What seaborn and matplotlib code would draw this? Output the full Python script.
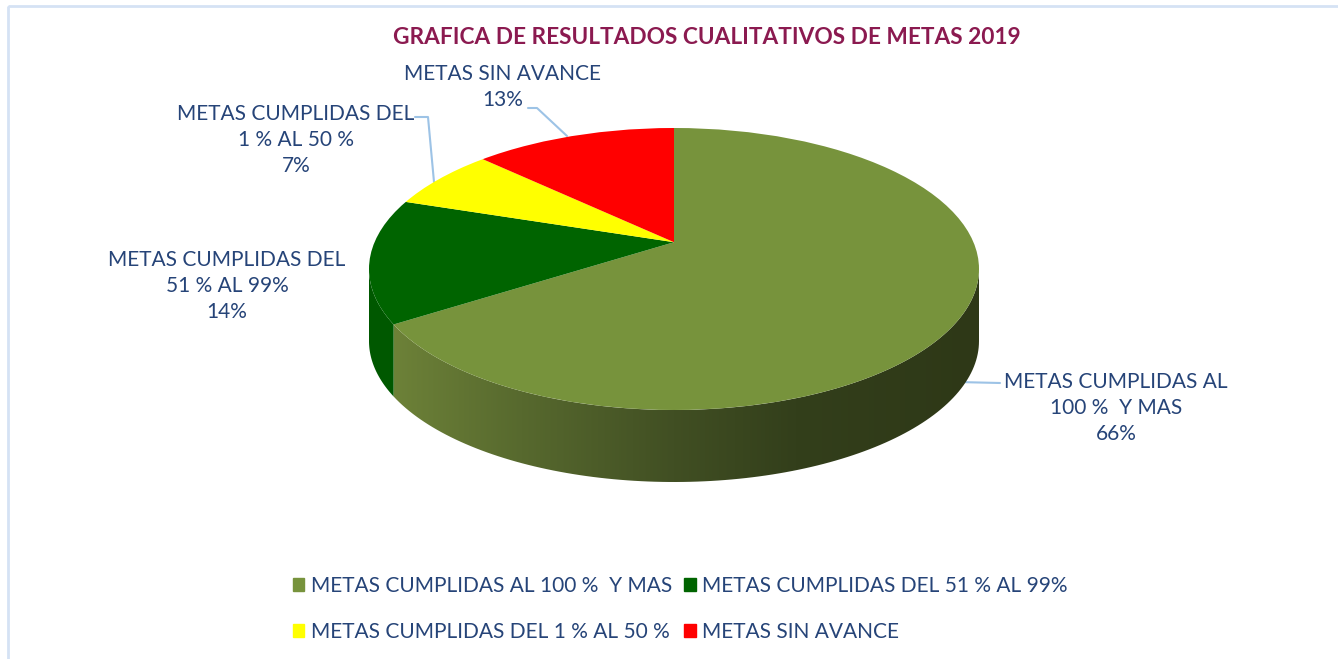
import numpy as np
import matplotlib
matplotlib.use("Agg")
import matplotlib.pyplot as plt
from matplotlib.patches import Polygon, Patch, Rectangle, Circle
from matplotlib.colors import LinearSegmentedColormap
import seaborn as sns

# datos
categorias = ["METAS CUMPLIDAS AL 100 %  Y MAS", "METAS CUMPLIDAS DEL 51 % AL 99%",
              "METAS CUMPLIDAS DEL 1 % AL 50 %", "METAS SIN AVANCE"]
etiquetas = ["METAS CUMPLIDAS AL\n100 %  Y MAS", "METAS CUMPLIDAS DEL\n51 % AL 99%",
             "METAS CUMPLIDAS DEL\n1 % AL 50 %", "METAS SIN AVANCE"]
porcentajes = [66, 14, 7, 13]
colores = ["#77933C", "#006400", "#FFFF00", "#FF0000"]
titulo = "GRAFICA DE RESULTADOS CUALITATIVOS DE METAS 2019"

sns.set_theme(style="white")
plt.rcParams["font.family"] = ["Lato", "DejaVu Sans"]
azul = "#264478"
linea = "#9DC3E6"

W, H = 1338, 659
fig = plt.figure(figsize=(W / 100, H / 100), dpi=100)
ax = fig.add_axes([0, 0, 1, 1])
ax.set_xlim(0, W)
ax.set_ylim(H, 0)
ax.axis("off")
ax.add_patch(Rectangle((8, 6), 1400, 700, fill=False, edgecolor="#d5e2f4", lw=2))

# pastel 3d: cara superior eliptica + pared lateral
cx, cy, rx, ry, prof = 674, 269, 305, 141, 72
dd = prof / ry
off = 0.19  # vertice desplazado hacia arriba (perspectiva)
pax = fig.add_axes([(cx - rx) / W, 1 - (cy + ry + prof) / H, 2 * rx / W, (2 * ry + prof) / H])
wedges, _ = pax.pie(porcentajes, colors=colores, startangle=90, counterclock=False,
                    center=(0, off), radius=1.5, wedgeprops=dict(linewidth=0))
pax.set_aspect("auto")
pax.axis("off")
borde = Circle((0, 0), 1, transform=pax.transData)
for w in wedges:
    w.set_zorder(3)
    w.set_clip_on(True)
    w.set_clip_path(borde)


def borde_ang(th):
    # angulo sobre el borde donde cae el rayo que sale del vertice
    r = np.radians(th)
    b = off * np.sin(r)
    t = -b + np.sqrt(b * b - (off * off - 1))
    px, py = t * np.cos(r), off + t * np.sin(r)
    d = np.degrees(np.arctan2(py, px)) - th
    d = (d + 180) % 360 - 180
    return th + d


grad = LinearSegmentedColormap.from_list(
    "lado", [(0, "#71863A"), (0.25, "#57692E"), (0.5, "#414F23"), (0.7, "#333F1B"), (1, "#2E3817")])
lados = ["grad", "#005800", "#cccc00", "#cc0000"]
for i, w in enumerate(wedges):
    t1, t2 = borde_ang(w.theta1), borde_ang(w.theta2)
    for s in (0, 360, -360):
        a = max(t1 + s, 180)
        b = min(t2 + s, 360)
        if b <= a:
            continue
        t = np.radians(np.linspace(a, b, 120))
        xs, ys = np.cos(t), np.sin(t)
        verts = np.column_stack([np.r_[xs, xs[::-1]], np.r_[ys, ys[::-1] - dd]])
        if lados[i] == "grad":
            poly = Polygon(verts, closed=True, facecolor="none", lw=0)
            pax.add_patch(poly)
            img = pax.imshow(np.linspace(0, 1, 256)[None, :], cmap=grad, aspect="auto",
                             extent=(-1, 1, -1 - dd, 0.2), zorder=2)
            img.set_clip_path(poly)
        else:
            pax.add_patch(Polygon(verts, closed=True, facecolor=lados[i], lw=0, zorder=2))
pax.set_xlim(-1, 1)
pax.set_ylim(-1 - dd, 1)

# titulo
ax.text(707, 38, titulo, ha="center", va="center", fontsize=16.3, fontweight="bold", color="#8B1A50")

# etiquetas de datos
pos = [(1116, 408), (227, 286), (296, 140), (503, 87)]
for (x, y), et, p in zip(pos, etiquetas, porcentajes):
    ax.text(x, y, f"{et}\n{p}%", ha="center", va="center", fontsize=15, color=azul, linespacing=1.4)

# lineas guia
ax.plot([1000, 957], [383, 382], color=linea, lw=1.5)
ax.plot([415, 428, 434], [117, 117, 182], color=linea, lw=1.5)
ax.plot([528, 537, 567], [108, 108, 136], color=linea, lw=1.5)

# leyenda
orden = [0, 2, 1, 3]
handles = [Patch(color=colores[i]) for i in orden]
labels = [categorias[i] for i in orden]
fig.legend(handles, labels, ncol=2, loc="upper left", bbox_to_anchor=(293 / W, 1 - 576 / H),
           frameon=False, fontsize=15, handlelength=0.55, handleheight=0.55, handletextpad=0.3,
           columnspacing=0.6, labelspacing=1.25, borderpad=0, borderaxespad=0, labelcolor=azul)

plt.savefig("out.png", dpi=100)
